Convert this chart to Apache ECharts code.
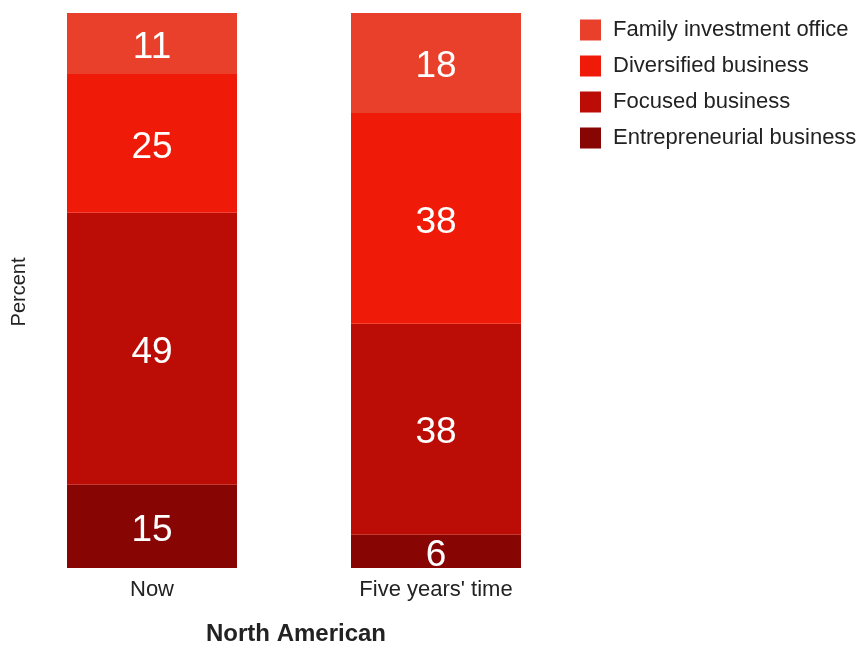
<!DOCTYPE html>
<html>
<head>
<meta charset="utf-8">
<script src="https://cdn.jsdelivr.net/npm/echarts@6/dist/echarts.min.js"></script>
<style>
  html, body { margin: 0; padding: 0; background: #fff; }
  #myChart { width: 859px; height: 646px; }
</style>
</head>
<body>
<div id="myChart"></div>
<script>
// 数据
var categories = ['Now', "Five years' time"];
var entrepreneurial = [15, 6];
var focused = [49, 38];
var diversified = [25, 38];
var familyOffice = [11, 18];

var FONT = 'Liberation Sans, Arial, sans-serif';
var colors = {
  family: '#e8402a',
  diversified: '#f01a08',
  focused: '#bb0d05',
  entrepreneurial: '#870502'
};

function makeSeries(name, data, color) {
  return {
    name: name,
    type: 'bar',
    stack: 'total',
    barWidth: 170,
    data: data,
    itemStyle: { color: color },
    label: {
      show: true,
      position: 'inside',
      offset: [0, 4],
      color: '#fff',
      fontSize: 37,
      fontFamily: FONT
    },
    emphasis: { disabled: true }
  };
}

var myChart = echarts.init(document.getElementById('myChart'));
myChart.setOption({
  backgroundColor: '#fff',
  animation: false,
  textStyle: { fontFamily: FONT },
  legend: {
    orient: 'vertical',
    left: 575,
    top: 14,
    itemWidth: 21,
    itemHeight: 21,
    itemGap: 14,
    icon: 'rect',
    textStyle: { fontSize: 22, lineHeight: 21, color: '#222', padding: [0, 0, 0, 7] },
    data: ['Family investment office', 'Diversified business', 'Focused business', 'Entrepreneurial business']
  },
  grid: {
    left: 10,
    right: 281,
    top: 13,
    bottom: 78
  },
  xAxis: {
    type: 'category',
    data: categories,
    axisLine: { show: false },
    axisTick: { show: false },
    axisLabel: { fontSize: 22, color: '#222', margin: 11 }
  },
  yAxis: {
    type: 'value',
    min: 0,
    max: 100,
    show: false
  },
  graphic: [
    {
      type: 'text',
      x: 19,
      y: 292,
      rotation: Math.PI / 2,
      style: { text: 'Percent', fontSize: 20, fill: '#222', fontFamily: FONT, align: 'center', verticalAlign: 'middle' }
    },
    {
      type: 'text',
      x: 296,
      y: 634,
      style: { text: 'North American', fontSize: 24, fontWeight: 'bold', fill: '#222', fontFamily: FONT, align: 'center', verticalAlign: 'middle' }
    }
  ],
  series: [
    makeSeries('Entrepreneurial business', entrepreneurial, colors.entrepreneurial),
    makeSeries('Focused business', focused, colors.focused),
    makeSeries('Diversified business', diversified, colors.diversified),
    makeSeries('Family investment office', familyOffice, colors.family)
  ]
});
</script>
</body>
</html>
